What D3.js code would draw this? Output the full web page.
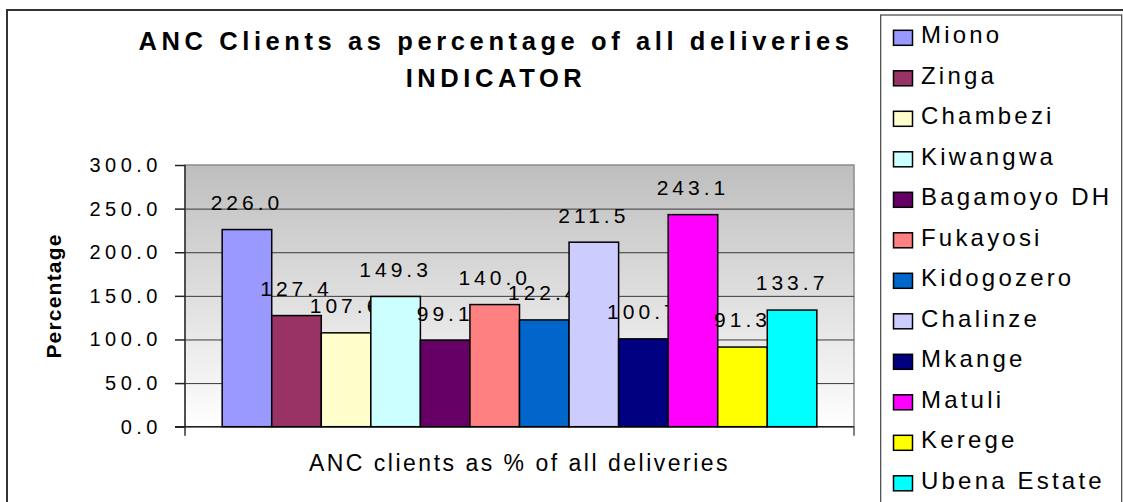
<!DOCTYPE html>
<html>
<head>
<meta charset="utf-8">
<script src="https://cdn.jsdelivr.net/npm/d3@7"></script>
<style>
  body { margin: 0; background: #fff; }
  text { font-family: "Liberation Sans", Arial, sans-serif; fill: #000; }
</style>
</head>
<body>
<div id="container"></div>
<script>
// data
let categoryLabel = "ANC clients as % of all deliveries";
let siteNames = ["Miono", "Zinga", "Chambezi", "Kiwangwa", "Bagamoyo DH", "Fukayosi",
  "Kidogozero", "Chalinze", "Mkange", "Matuli", "Kerege", "Ubena Estate"];
let siteValues = [226.0, 127.4, 107.6, 149.3, 99.1, 140.0, 122.4, 211.5, 100.7, 243.1, 91.3, 133.7];
let siteColors = ["#9999ff", "#993366", "#ffffcc", "#ccffff", "#660066", "#ff8080",
  "#0066cc", "#ccccff", "#000080", "#ff00ff", "#ffff00", "#00ffff"];
let yTicks = [0, 50, 100, 150, 200, 250, 300];

let w = 1123;
let h = 502;
let plotLeft = 185, plotRight = 854, plotTop = 165, plotBottom = 426.7;

let viz = d3.select("#container")
  .append("svg")
    .attr("width", w)
    .attr("height", h)
;

// outer chart frame
viz.append("rect")
  .attr("x", 7).attr("y", 10)
  .attr("width", w + 20).attr("height", h + 20)
  .attr("fill", "#fff")
  .attr("stroke", "#333")
  .attr("stroke-width", 2);

// background gradient
let defs = viz.append("defs");
let grad = defs.append("linearGradient")
  .attr("id", "plotBg")
  .attr("x1", 0).attr("y1", 0).attr("x2", 0).attr("y2", 1);
grad.append("stop").attr("offset", "0%").attr("stop-color", "#bebebe");
grad.append("stop").attr("offset", "100%").attr("stop-color", "#ffffff");

viz.append("rect")
  .attr("x", plotLeft).attr("y", plotTop)
  .attr("width", plotRight - plotLeft).attr("height", plotBottom - plotTop)
  .attr("fill", "url(#plotBg)")
  .attr("stroke", "#8c8c8c")
  .attr("stroke-width", 1.5);

// scales
let yScale = d3.scaleLinear().domain([0, 300]).range([plotBottom, plotTop]);
let x0 = d3.scaleBand().domain([categoryLabel]).range([plotLeft, plotRight]);
let x1 = d3.scaleBand().domain(siteNames).range([0, x0.bandwidth()])
  .paddingInner(0).paddingOuter(0.75);

// gridlines
let gridGroup = viz.append("g").attr("class", "grid")
  .attr("transform", "translate(" + plotLeft + ",0)");
gridGroup.call(d3.axisLeft(yScale).tickValues(yTicks.slice(1, -1)).tickSize(-(plotRight - plotLeft)).tickFormat(""));
gridGroup.select(".domain").remove();
gridGroup.selectAll("line").attr("stroke", "#3a3a3a").attr("stroke-width", 1);

// y axis
let yAxisGroup = viz.append("g").attr("class", "yaxis")
  .attr("transform", "translate(" + plotLeft + ",0)");
yAxisGroup.call(d3.axisLeft(yScale).tickValues(yTicks).tickSize(10).tickPadding(0).tickFormat(d3.format(".1f")));
yAxisGroup.select(".domain").attr("d", "M0," + plotTop + "V" + (plotBottom + 9)).attr("stroke", "#333").attr("stroke-width", 1.5);
yAxisGroup.selectAll(".tick line").attr("stroke", "#222").attr("stroke-width", 1.5);
yAxisGroup.selectAll(".tick text")
  .attr("x", -23)
  .attr("dy", "0.32em")
  .attr("font-size", 20)
  .attr("letter-spacing", 4.5)
  .attr("font-family", "Liberation Sans, Arial, sans-serif")
  .attr("fill", "#000");

// x axis
let xAxisGroup = viz.append("g").attr("class", "xaxis")
  .attr("transform", "translate(0," + plotBottom + ")");
xAxisGroup.append("line")
  .attr("x1", plotLeft - 10).attr("x2", plotRight)
  .attr("stroke", "#222").attr("stroke-width", 1.5);
xAxisGroup.append("line")
  .attr("x1", plotRight).attr("x2", plotRight).attr("y1", 0).attr("y2", 9)
  .attr("stroke", "#555").attr("stroke-width", 1.5);

xAxisGroup.append("text")
  .text(categoryLabel)
  .attr("x", x0(categoryLabel) + x0.bandwidth() / 2)
  .attr("y", 44)
  .attr("text-anchor", "middle")
  .attr("font-size", 23)
  .attr("letter-spacing", 2.5);

// bars
let vizGroup = viz.append("g").attr("class", "vizGroup")
  .attr("transform", "translate(" + x0(categoryLabel) + ",0)");

let bars = vizGroup.selectAll(".datagroup").data(siteNames).enter()
  .append("g")
    .attr("class", "datagroup");

bars.append("rect")
  .attr("x", function(d, i){ return x1(d); })
  .attr("y", function(d, i){ return yScale(siteValues[i]); })
  .attr("width", x1.bandwidth())
  .attr("height", function(d, i){ return plotBottom - yScale(siteValues[i]); })
  .attr("fill", function(d, i){ return siteColors[i]; })
  .attr("stroke", "#000")
  .attr("stroke-width", 1.5);

bars.append("text")
  .text(function(d, i){ return d3.format(".1f")(siteValues[i]); })
  .attr("x", function(d, i){ return x1(d) + x1.bandwidth() / 2; })
  .attr("y", function(d, i){ return yScale(siteValues[i]) - 19.6; })
  .attr("text-anchor", "middle")
  .attr("font-size", 21)
  .attr("letter-spacing", 4);

// y axis title
viz.append("text")
  .text("Percentage")
  .attr("transform", "translate(61,296) rotate(-90)")
  .attr("text-anchor", "middle")
  .attr("font-size", 21)
  .attr("font-weight", "bold")
  .attr("letter-spacing", 1.2);

// title
let titleGroup = viz.append("g").attr("class", "title");
titleGroup.append("text")
  .text("ANC Clients as percentage of all deliveries")
  .attr("x", 496).attr("y", 50)
  .attr("text-anchor", "middle")
  .attr("font-size", 25.5)
  .attr("font-weight", "bold")
  .attr("letter-spacing", 4.6);
titleGroup.append("text")
  .text("INDICATOR")
  .attr("x", 496).attr("y", 87)
  .attr("text-anchor", "middle")
  .attr("font-size", 25.5)
  .attr("font-weight", "bold")
  .attr("letter-spacing", 4.6);

// legend
let legend = viz.append("g").attr("class", "legend");
legend.append("rect")
  .attr("x", 880.7).attr("y", 15)
  .attr("width", 241).attr("height", h)
  .attr("fill", "#fff")
  .attr("stroke", "#444")
  .attr("stroke-width", 1.2);

let legendItems = legend.selectAll(".item").data(siteNames).enter()
  .append("g")
    .attr("class", "item")
    .attr("transform", function(d, i){ return "translate(893.5," + (43.3 + 40.5 * i) + ")"; });

legendItems.append("rect")
  .attr("x", 0).attr("y", -13)
  .attr("width", 19).attr("height", 15)
  .attr("fill", function(d, i){ return siteColors[i]; })
  .attr("stroke", "#000")
  .attr("stroke-width", 1.5);

legendItems.append("text")
  .text(function(d){ return d; })
  .attr("x", 27.5)
  .attr("y", 0)
  .attr("font-size", 24)
  .attr("letter-spacing", 3.2);
</script>
</body>
</html>
